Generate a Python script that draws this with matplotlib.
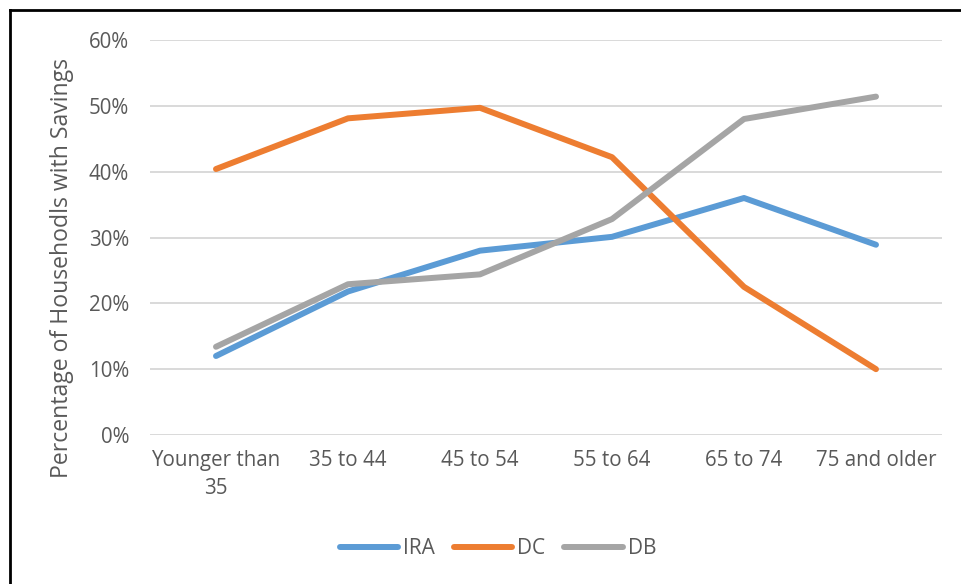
#!/usr/bin/env python3
import matplotlib
matplotlib.use("Agg")
import matplotlib.pyplot as plt
from matplotlib.lines import Line2D
from matplotlib.ticker import PercentFormatter

OUT_PNG = "out.png"

categories = ["Younger than\n35", "35 to 44", "45 to 54", "55 to 64", "65 to 74", "75 and older"]
ira = [12.0, 21.8, 28.0, 30.1, 36.0, 28.9]
dc = [40.4, 48.1, 49.7, 42.2, 22.5, 10.0]
db = [13.4, 22.9, 24.4, 32.8, 48.0, 51.4]
y_ticks = [0, 10, 20, 30, 40, 50, 60]

BLUE = "#5B9BD5"
ORANGE = "#ED7D31"
GRAY = "#A5A5A5"
TEXT = "#595959"


def main():
    plt.rcParams["font.family"] = ["Open Sans", "DejaVu Sans"]

    fig = plt.figure(figsize=(9.61, 5.84), dpi=100)
    ax = fig.add_axes([150 / 961, 1 - 435 / 584, 792 / 961, 395 / 584])

    x = list(range(len(categories)))
    for vals, color, name in [(ira, BLUE, "IRA"), (dc, ORANGE, "DC"), (db, GRAY, "DB")]:
        ax.plot(x, vals, color=color, lw=4.3, solid_capstyle="round",
                solid_joinstyle="round", label=name, zorder=3)

    ax.set_xlim(-0.5, len(categories) - 0.5)
    ax.set_ylim(0, 60)
    ax.set_yticks(y_ticks)
    ax.yaxis.set_major_formatter(PercentFormatter(decimals=0))
    ax.set_xticks(x)
    ax.set_xticklabels(categories, linespacing=1.45)
    ax.grid(axis="y", color="#D9D9D9", lw=1.4)
    ax.set_axisbelow(True)
    for s in ax.spines.values():
        s.set_visible(False)
    ax.tick_params(axis="both", length=0, labelsize=14.8, labelcolor=TEXT)
    ax.tick_params(axis="y", pad=15)
    ax.tick_params(axis="x", pad=11)

    fig.text(62 / 961, 1 - 268 / 584, "Percentage of Househodls with Savings",
             rotation=90, ha="center", va="center", fontsize=16.6, color=TEXT)

    ax.legend(loc="center", bbox_to_anchor=(498 / 961, 1 - 549 / 584),
              bbox_transform=fig.transFigure, ncol=3, frameon=False,
              fontsize=15, labelcolor=TEXT, handlelength=2.8,
              handletextpad=0.25, columnspacing=0.9)

    # frame of the original screenshot
    fig.add_artist(Line2D([10 / 961, 10 / 961], [0, 1 - 10 / 584],
                          color="black", lw=2, transform=fig.transFigure))
    fig.add_artist(Line2D([10 / 961, 1], [1 - 10 / 584, 1 - 10 / 584],
                          color="black", lw=2, transform=fig.transFigure))

    fig.savefig(OUT_PNG, dpi=100)
    return 0


if __name__ == "__main__":
    main()
